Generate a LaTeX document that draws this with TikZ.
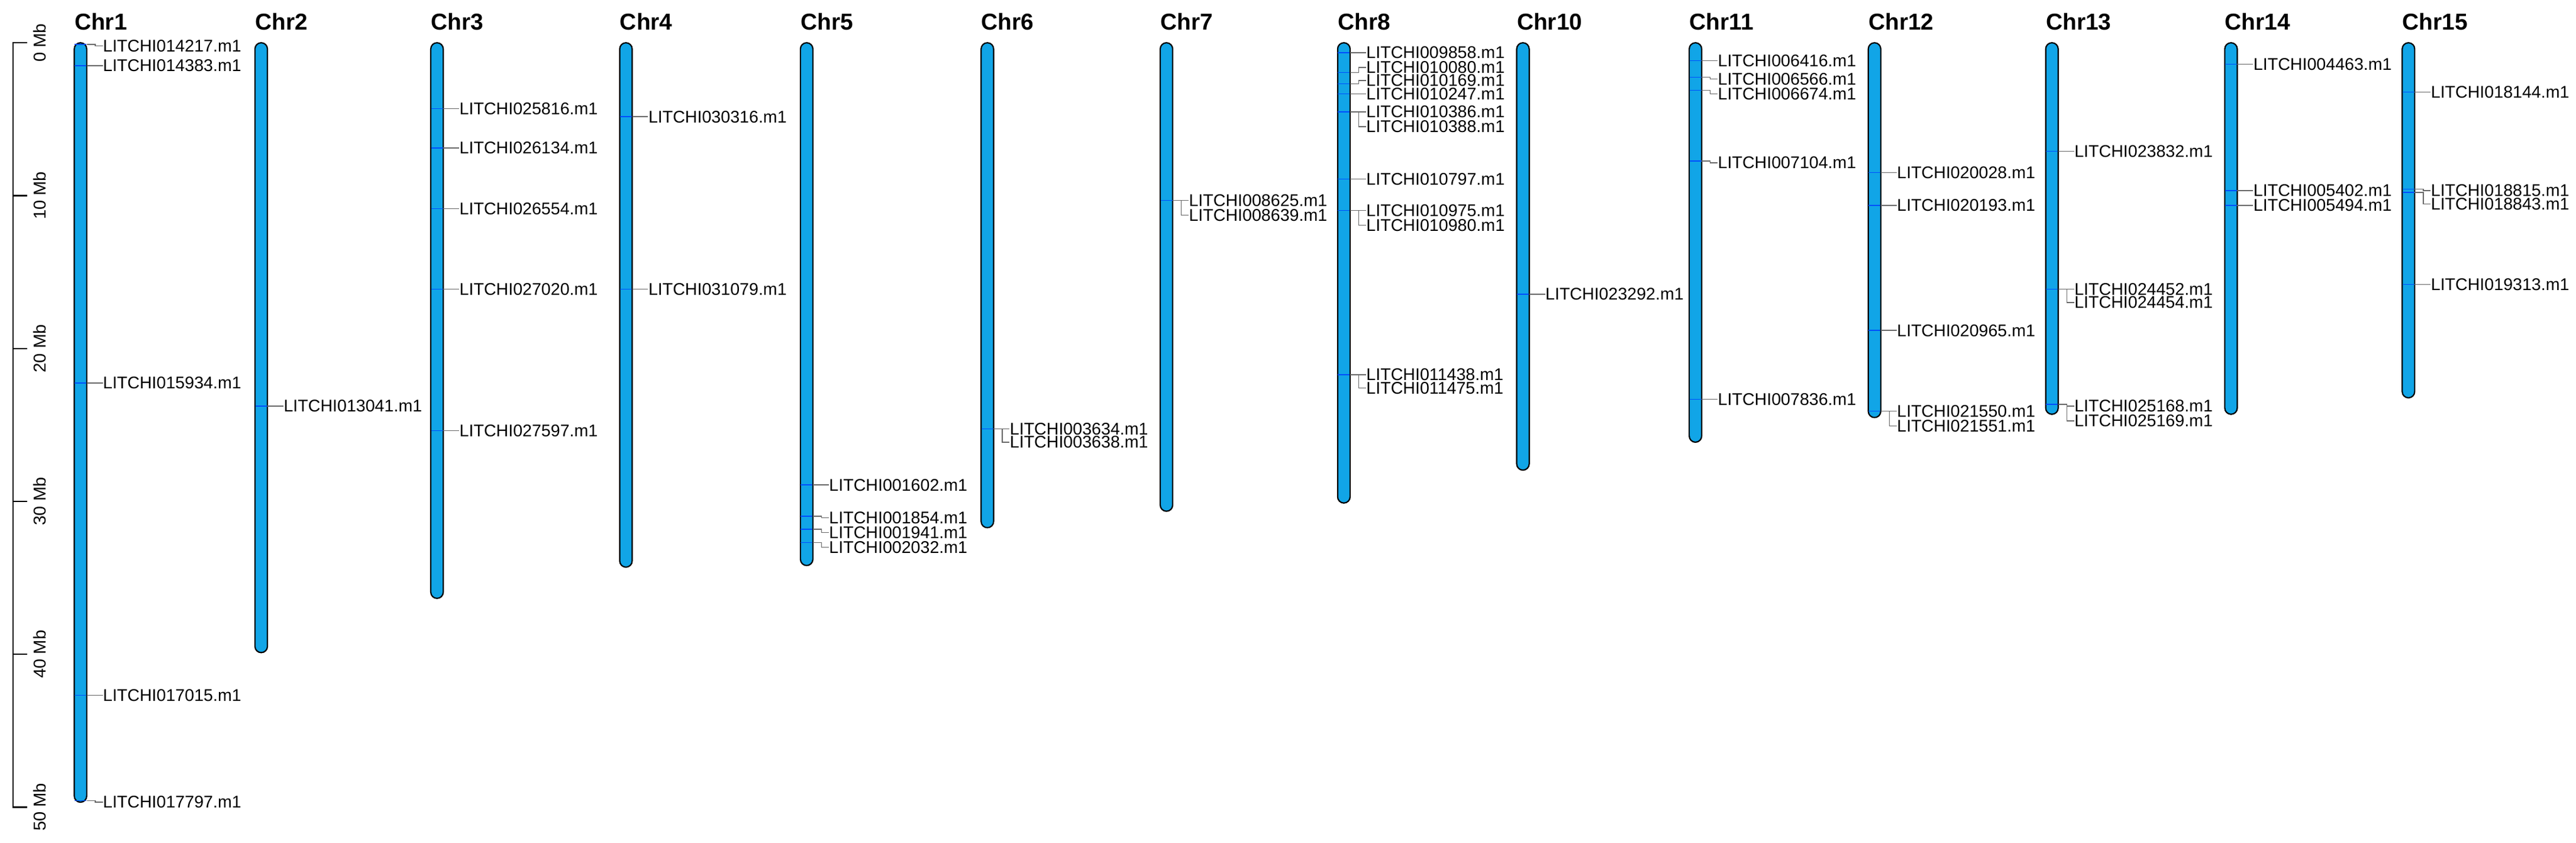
\documentclass[tikz,border=0pt]{standalone}
\usepackage{fontspec}
\setmainfont{Liberation Sans}
\begin{document}
\begin{tikzpicture}[x=1pt,y=-1pt,
  chrom/.style={draw=black,line width=0.8pt,fill=cyan!90!blue!95!white,rounded corners=3.8pt},
  ttl/.style={anchor=south west,inner sep=0pt,font=\bfseries\fontsize{14}{14}\selectfont},
  lbl/.style={anchor=west,inner sep=0pt,font=\fontsize{10.3}{10}\selectfont},
  lead/.style={draw=gray!80!black,line width=0.5pt},
  gmark/.style={draw=blue!70!cyan,line width=0.5pt},
  axl/.style={anchor=center,inner sep=0pt,rotate=90,font=\fontsize{10.5}{10}\selectfont}]
\useasboundingbox (0,0) rectangle (1568,512.5);
% axis
\draw[line width=0.8pt] (16.5,26) -- (8,26) -- (8,491) -- (16.5,491);
\foreach \m in {10,20,30,40}{\draw[line width=0.8pt] (8,26+\m*9.3) -- (16.5,26+\m*9.3);}
\foreach \m in {0,10,20,30,40,50}{\node[axl] (ax\m) at (24,26+\m*9.3) {\m{} Mb};}
% chromosome macro: x, bottom, name
\newcommand\mychr[3]{\draw[chrom] (#1-3.8,26) rectangle (#1+3.8,#2);
  \node[ttl] (t#3) at (#1-3.8,18.5) {Chr#3};}
% gene macro: x, gene y, label y, id
\newcommand\mygene[4]{\draw[gmark] (#1-3.6,#2) -- (#1+3.6,#2);
  \node[lbl] (L#4) at (#1+13.5,#3) {LITCHI#4.m1};
  \draw[lead] (#1+3.8,#2) -- (#1+9,#2) -- (#1+9,#3) -- (L#4.west);}
\mychr{49}{488}{1}
\mygene{49}{27}{28}{014217}
\mygene{49}{40}{40}{014383}
\mygene{49}{233}{233}{015934}
\mygene{49}{423}{423}{017015}
\mygene{49}{487}{488}{017797}
\mychr{159}{397}{2}
\mygene{159}{247}{247}{013041}
\mychr{266}{364}{3}
\mygene{266}{66}{66}{025816}
\mygene{266}{90}{90}{026134}
\mygene{266}{127}{127}{026554}
\mygene{266}{176}{176}{027020}
\mygene{266}{262}{262}{027597}
\mychr{381}{345}{4}
\mygene{381}{71}{71}{030316}
\mygene{381}{176}{176}{031079}
\mychr{491}{344}{5}
\mygene{491}{295}{295}{001602}
\mygene{491}{314}{315}{001854}
\mygene{491}{322}{324}{001941}
\mygene{491}{330}{333}{002032}
\mychr{601}{321}{6}
\mygene{601}{261}{261}{003634}
\mygene{601}{261}{269}{003638}
\mychr{710}{311}{7}
\mygene{710}{122}{122}{008625}
\mygene{710}{122}{131}{008639}
\mychr{818}{306}{8}
\mygene{818}{32}{32}{009858}
\mygene{818}{44}{41}{010080}
\mygene{818}{51}{49}{010169}
\mygene{818}{57}{57}{010247}
\mygene{818}{68}{68}{010386}
\mygene{818}{68}{77}{010388}
\mygene{818}{109}{109}{010797}
\mygene{818}{128}{128}{010975}
\mygene{818}{128}{137}{010980}
\mygene{818}{228}{228}{011438}
\mygene{818}{228}{236}{011475}
\mychr{927}{286}{10}
\mygene{927}{179}{179}{023292}
\mychr{1032}{269}{11}
\mygene{1032}{37}{37}{006416}
\mygene{1032}{47}{48}{006566}
\mygene{1032}{55}{57}{006674}
\mygene{1032}{98}{99}{007104}
\mygene{1032}{243}{243}{007836}
\mychr{1141}{254}{12}
\mygene{1141}{105}{105}{020028}
\mygene{1141}{125}{125}{020193}
\mygene{1141}{201}{201}{020965}
\mygene{1141}{250}{250}{021550}
\mygene{1141}{250}{259}{021551}
\mychr{1249}{252}{13}
\mygene{1249}{92}{92}{023832}
\mygene{1249}{176}{176}{024452}
\mygene{1249}{176}{184}{024454}
\mygene{1249}{246}{247}{025168}
\mygene{1249}{246}{256}{025169}
\mychr{1358}{252}{14}
\mygene{1358}{39}{39}{004463}
\mygene{1358}{116}{116}{005402}
\mygene{1358}{125}{125}{005494}
\mychr{1466}{242}{15}
\mygene{1466}{56}{56}{018144}
\mygene{1466}{115}{116}{018815}
\mygene{1466}{117}{124}{018843}
\mygene{1466}{173}{173}{019313}
\end{tikzpicture}
\end{document}
